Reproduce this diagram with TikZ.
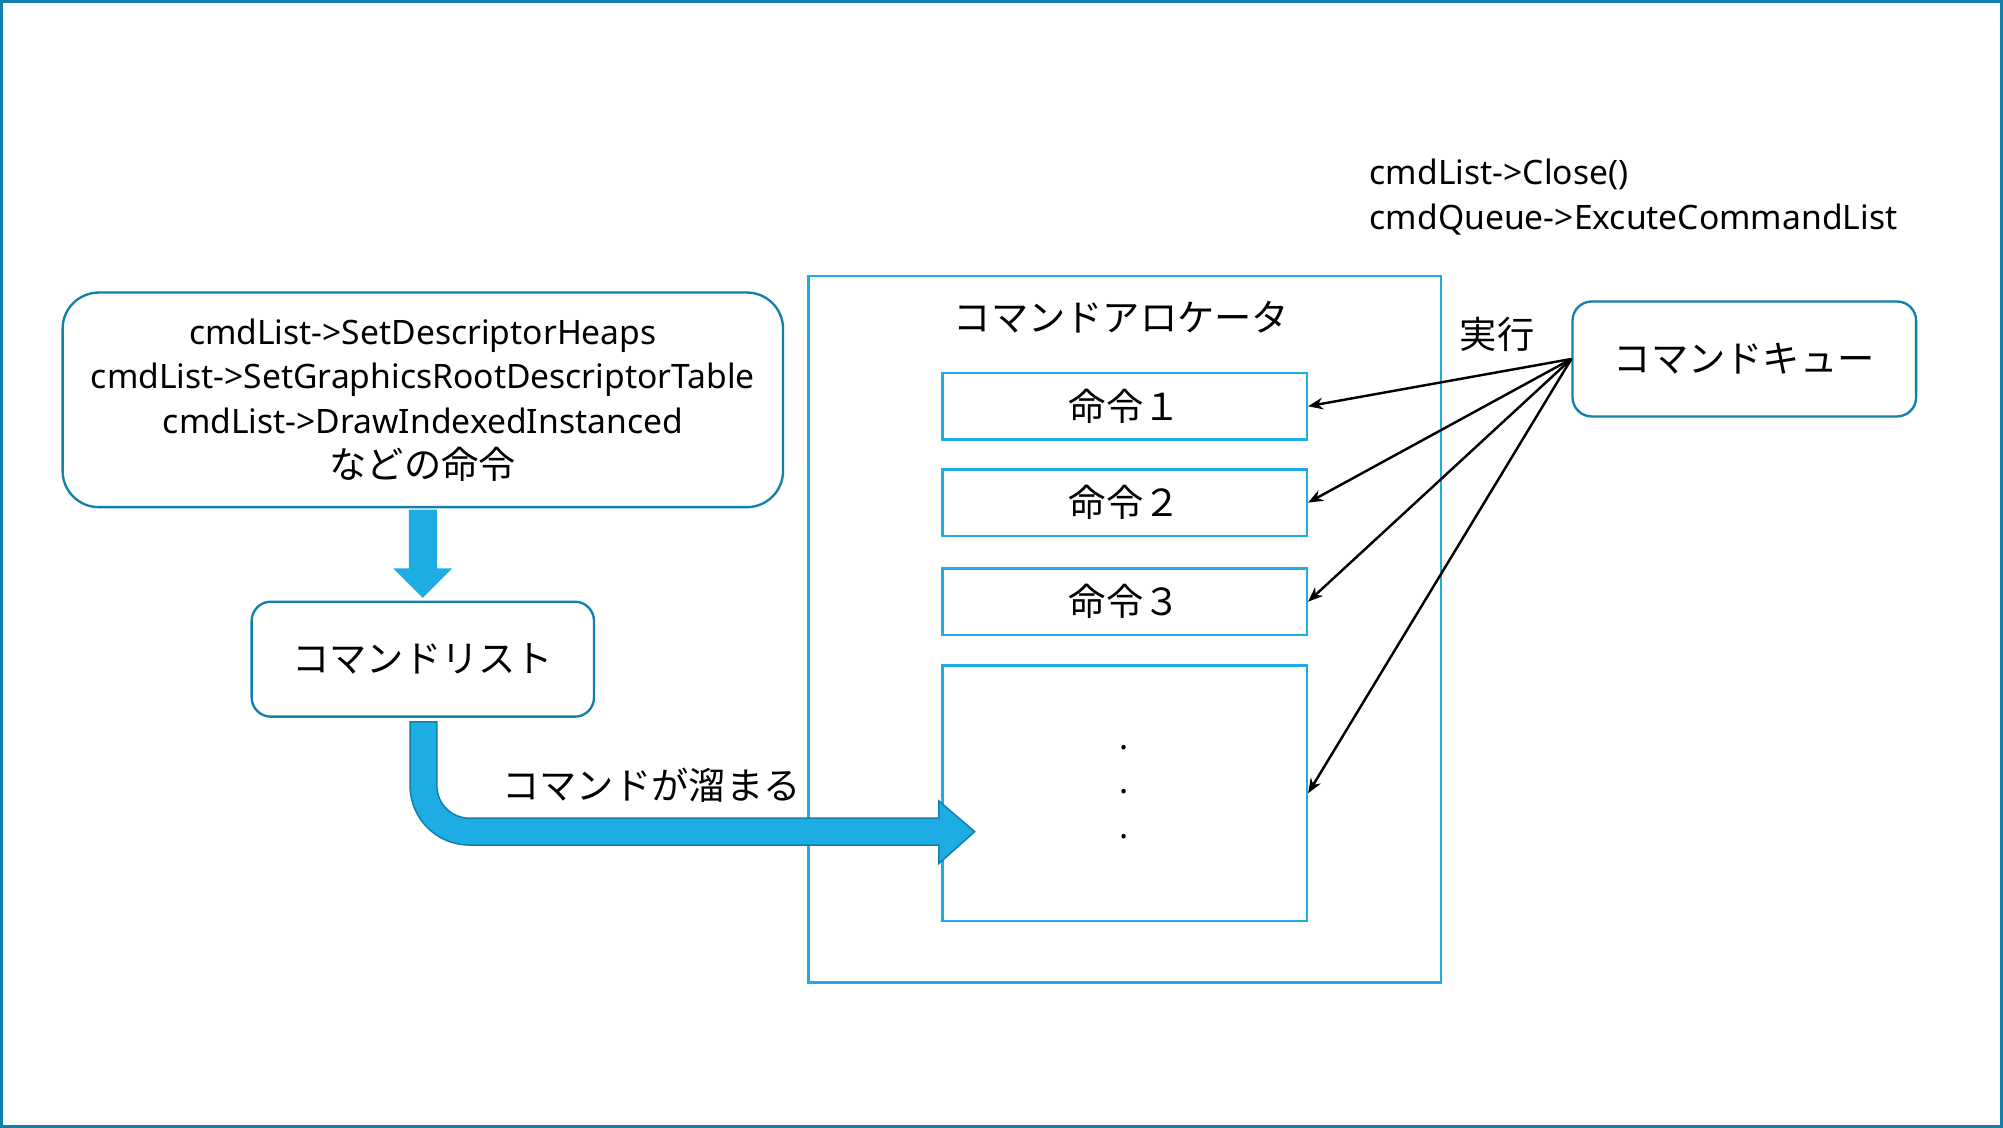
\documentclass[tikz,border=0pt]{standalone}
\usepackage{fontspec}
\setmainfont{Noto Sans}
\newfontfamily\jp{Noto Sans CJK JP}
\usetikzlibrary{arrows.meta}
\definecolor{frameblue}{RGB}{18,128,172}
\definecolor{lightblue}{RGB}{29,173,228}
\newcommand\jpf{\jp\fontsize{17.5}{21}\selectfont}
\begin{document}
\begin{tikzpicture}[x=0.6pt,y=-0.6pt,
  roundbox/.style={draw=frameblue, line width=1.1pt, fill=white, align=center, inner sep=0pt},
  cmdbox/.style={draw=lightblue, line width=1.2pt, minimum width=171pt, minimum height=31.2pt, inner sep=0pt, font=\jpf},
  jtext/.style={font=\jpf, inner sep=0pt},
  ltext/.style={font=\fontsize{15.8}{21}\selectfont, inner sep=0pt},
  dottext/.style={font=\bfseries\fontsize{16}{16}\selectfont, inner sep=0pt},
  flow/.style={-{Stealth[length=7pt,width=5.5pt]}, line width=1.15pt, black},
  blockarrow/.style={fill=lightblue}
]
\useasboundingbox (0,0) rectangle (1568,883);
\draw[frameblue, line width=1.6pt] (1.3,1.3) rectangle (1566.7,881.7);

% left side
\node[roundbox, rounded corners=17pt, minimum width=338.4pt, minimum height=100.8pt,
      font=\fontsize{15.8}{21}\selectfont] (top) at (331,313)
  {cmdList->SetDescriptorHeaps\\cmdList->SetGraphicsRootDescriptorTable\\cmdList->DrawIndexedInstanced\\{\jpf などの命令}};
\node[roundbox, rounded corners=9pt, minimum width=160.8pt, minimum height=54pt, font=\jpf] (list) at (331,516) {コマンドリスト};

% down block arrow
\fill[blockarrow] (320,399) -- (342,399) -- (342,445) -- (354,445) -- (331,468) -- (308,445) -- (320,445) -- cycle;

% allocator
\node[draw=lightblue, line width=1.2pt, minimum width=297pt, minimum height=331.8pt, inner sep=0pt] (alloc) at (880.5,492.5) {};
\node[jtext] (alloctitle) at (878,248) {コマンドアロケータ};
\node[cmdbox] (c1) at (880.5,318) {命令１};
\node[cmdbox] (c2) at (880.5,393.5) {命令２};
\node[cmdbox] (c3) at (880.5,471) {命令３};
\node[cmdbox, minimum height=120pt] (c4) at (880.5,621) {};
\node[dottext] (d1) at (880,585) {.};
\node[dottext] (d2) at (880,620) {.};
\node[dottext] (d3) at (880,655) {.};

% bent block arrow
\filldraw[fill=lightblue, draw=frameblue, line width=0.7pt]
  (321,565) -- (321,615) .. controls (321,640.7) and (341.8,661.5) .. (367.5,661.5)
  -- (735,661.5) -- (735,676) -- (763,651) -- (735,627) -- (735,640.5) -- (367.5,640.5)
  .. controls (353.4,640.5) and (342,629.1) .. (342,615) -- (342,565) -- cycle;
\node[jtext] (storelabel) at (510,615) {コマンドが溜まる};

% queue
\node[roundbox, rounded corners=9pt, minimum width=161.4pt, minimum height=54pt, font=\jpf] (queue) at (1365.5,281) {コマンドキュー};
\node[jtext] (exec) at (1172,262) {実行};
\node[ltext, anchor=west, align=left] (calls) at (1072,154.5) {cmdList->Close()\\cmdQueue->ExcuteCommandList};

\draw[flow] (queue.west) -- (c1.east);
\draw[flow] (queue.west) -- (c2.east);
\draw[flow] (queue.west) -- (c3.east);
\draw[flow] (queue.west) -- (c4.east);
\end{tikzpicture}
\end{document}
